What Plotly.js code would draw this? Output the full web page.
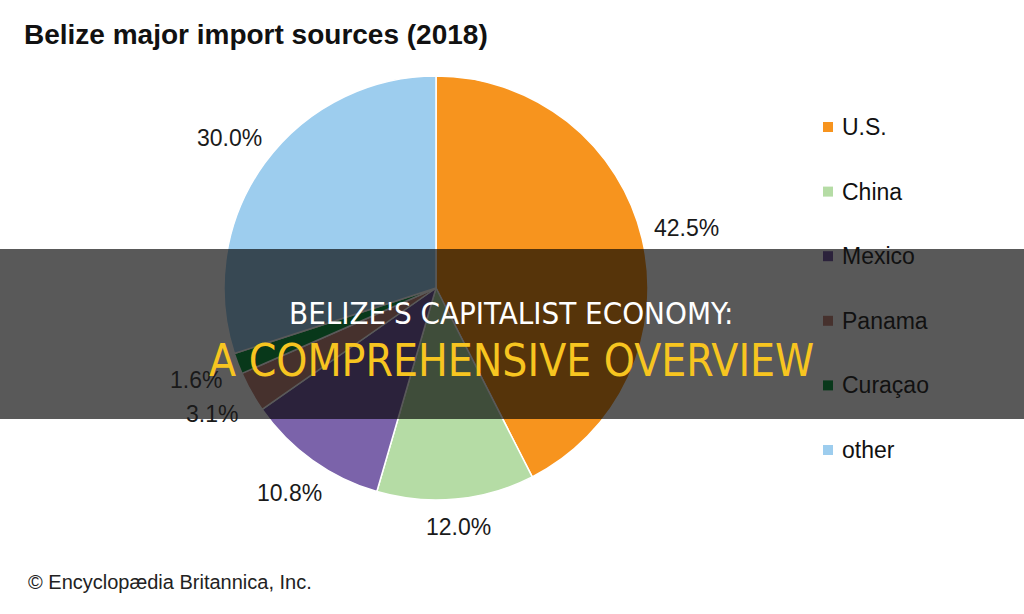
<!DOCTYPE html>
<html>
<head>
<meta charset="utf-8">
<script src="https://cdn.plot.ly/plotly-3.0.1.min.js"></script>
<style>html,body{margin:0;padding:0;background:#fff;} #chart{width:1024px;height:614px;}</style>
</head>
<body>
<div id="chart"></div>
<script>
const categories = ["U.S.", "China", "Mexico", "Panama", "Curaçao", "other"];
const shares = [42.5, 12.0, 10.8, 3.1, 1.6, 30.0];
const sliceColors = ["#F7941E", "#B5DCA5", "#7B63AA", "#C98C80", "#17A04A", "#9DCDEE"];
const chartTitle = "Belize major import sources (2018)";
const credit = "© Encyclopædia Britannica, Inc.";
const bannerLine1 = "BELIZE'S CAPITALIST ECONOMY:";
const bannerLine2 = "A COMPREHENSIVE OVERVIEW";

const W = 1024, H = 614;
const px = x => x / W;
const py = y => 1 - y / H;

// pie geometry (layout)
const cx = 436, cy = 288, R = 212;

const trace = {
  type: "pie",
  labels: categories,
  values: shares,
  sort: false,
  direction: "clockwise",
  rotation: 0,
  marker: { colors: sliceColors, line: { color: "#ffffff", width: 1.5 } },
  textinfo: "none",
  hoverinfo: "label+value",
  showlegend: false,
  automargin: false,
  domain: { x: [px(cx - R), px(cx + R)], y: [py(cy + R), py(cy - R)] }
};

const shapes = [];
const annotations = [];

// percentage labels placed outside each slice, angle derived from the data
const total = shares.reduce((a, b) => a + b, 0);
let cum = 0;
shares.forEach((v, i) => {
  const mid = (cum + v / 2) / total * 2 * Math.PI;
  cum += v;
  const s = Math.sin(mid), c = Math.cos(mid);
  const r = R + 18 + Math.abs(s) * 26 + Math.abs(c) * 8;
  annotations.push({
    xref: "paper", yref: "paper",
    x: px(cx + s * r), y: py(cy - c * r),
    xanchor: "center", yanchor: "middle",
    text: v.toFixed(1) + "%", showarrow: false,
    font: { family: "Liberation Sans, Arial, sans-serif", size: 23, color: "#1a1a1a" }
  });
});

// manual legend
categories.forEach((c, i) => {
  const yc = 127 + i * 64.6;
  shapes.push({
    type: "rect", xref: "paper", yref: "paper", layer: "below",
    x0: px(823), x1: px(833), y0: py(yc + 5), y1: py(yc - 5),
    fillcolor: sliceColors[i], line: { width: 0 }
  });
  annotations.push({
    xref: "paper", yref: "paper", x: px(840), y: py(yc), xanchor: "left", yanchor: "middle",
    text: c, showarrow: false,
    font: { family: "Liberation Sans, Arial, sans-serif", size: 23, color: "#111" }
  });
});

// dark banner overlay
shapes.push({
  type: "rect", xref: "paper", yref: "paper", layer: "above",
  x0: 0, x1: 1, y0: py(419), y1: py(249),
  fillcolor: "rgba(0,0,0,0.65)", line: { width: 0 }
});

annotations.push({
  xref: "paper", yref: "paper", x: px(511), y: py(313), xanchor: "center", yanchor: "middle",
  text: bannerLine1, showarrow: false,
  font: { family: "DejaVu Sans Condensed, Arial Narrow, sans-serif", size: 31, color: "#ffffff" }
});
annotations.push({
  xref: "paper", yref: "paper", x: px(511), y: py(360), xanchor: "center", yanchor: "middle",
  text: bannerLine2, showarrow: false,
  font: { family: "DejaVu Sans Condensed, Arial Narrow, sans-serif", size: 44, color: "#F7C520" }
});

annotations.push({
  xref: "paper", yref: "paper", x: px(26), y: py(582), xanchor: "left", yanchor: "middle",
  text: credit, showarrow: false,
  font: { family: "Liberation Sans, Arial, sans-serif", size: 20, color: "#222" }
});

const layout = {
  width: W, height: H,
  margin: { l: 0, r: 0, t: 0, b: 0 },
  paper_bgcolor: "#ffffff",
  title: {
    text: "<b>" + chartTitle + "</b>",
    x: px(24), xanchor: "left", xref: "paper",
    y: py(34), yanchor: "middle", yref: "paper",
    font: { family: "Liberation Sans, Arial, sans-serif", size: 28, color: "#111" }
  },
  showlegend: false,
  shapes: shapes,
  annotations: annotations
};

Plotly.newPlot("chart", [trace], layout, { displayModeBar: false, staticPlot: true });
</script>
</body>
</html>
